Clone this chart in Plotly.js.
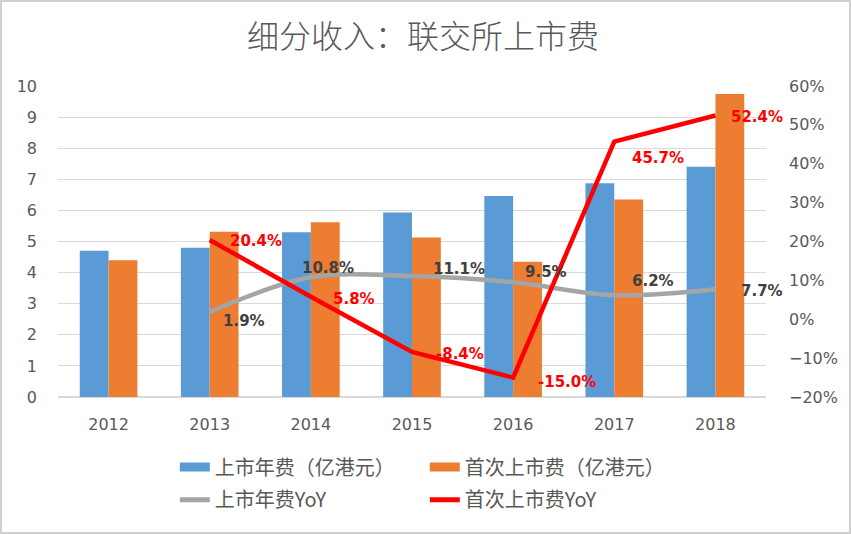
<!DOCTYPE html>
<html><head><meta charset="utf-8">
<script src="https://cdn.plot.ly/plotly-3.0.1.min.js"></script>
<style>
html,body{margin:0;padding:0;background:#fff}
#chart{width:851px;height:534px}
#frame{position:absolute;left:0;top:0;width:851px;height:534px;box-sizing:border-box;border:2px solid #d0d0d0;pointer-events:none}
</style>
</head><body>
<div id="chart"></div><div id="frame"></div>
<script>
// ---- data ----
const years = ['2012','2013','2014','2015','2016','2017','2018'];
const annualFee = [4.70, 4.80, 5.30, 5.93, 6.46, 6.87, 7.40];      // 上市年费（亿港元）
const listingFee = [4.40, 5.31, 5.62, 5.13, 4.35, 6.35, 9.74];     // 首次上市费（亿港元）
const yoyYears = ['2013','2014','2015','2016','2017','2018'];
const annualYoY = [1.9, 10.8, 11.1, 9.5, 6.2, 7.7];               // 上市年费YoY (%)
const listingYoY = [20.4, 5.8, -8.4, -15.0, 45.7, 52.4];           // 首次上市费YoY (%)
const names = ['上市年费（亿港元）','首次上市费（亿港元）','上市年费YoY','首次上市费YoY'];

// ---- styles ----
const C = {blue:'#5B9BD5', orange:'#ED7D31', gray:'#A5A5A5', red:'#FF0000', text:'#595959'};
const grayLabelOffsets = [[34,-9],[17,9],[47,7],[33,10],[39,14],[47,-2]];
const redLabelOffsets  = [[46,-1],[43,-2],[48,-2],[54,-4],[44,-16],[42,-1]];

const traces = [
  {type:'bar', x:years, y:annualFee, marker:{color:C.blue}, showlegend:false, hoverinfo:'skip'},
  {type:'bar', x:years, y:listingFee, marker:{color:C.orange}, showlegend:false, hoverinfo:'skip'},
  {type:'scatter', mode:'lines', x:yoyYears, y:annualYoY, yaxis:'y2', line:{color:C.gray, width:4.5, shape:'spline', smoothing:1}, showlegend:false},
  {type:'scatter', mode:'lines', x:yoyYears, y:listingYoY, yaxis:'y2', line:{color:C.red, width:4.5}, showlegend:false},
  // legend entries
  {type:'scatter', mode:'lines', x:[years[0]], y:[null], name:names[0], line:{color:C.blue, width:9}, legend:'legend'},
  {type:'scatter', mode:'lines', x:[years[0]], y:[null], name:names[1], line:{color:C.orange, width:9}, legend:'legend'},
  {type:'scatter', mode:'lines', x:[years[0]], y:[null], name:names[2], line:{color:C.gray, width:5}, legend:'legend2'},
  {type:'scatter', mode:'lines', x:[years[0]], y:[null], name:names[3], line:{color:C.red, width:5}, legend:'legend2'}
];

const annotations = [];
yoyYears.forEach((yr,i)=>{
  const xi = years.indexOf(yr);
  annotations.push({x:xi, y:annualYoY[i], xref:'x', yref:'y2', showarrow:false,
    text:annualYoY[i].toFixed(1)+'%', xshift:grayLabelOffsets[i][0], yshift:grayLabelOffsets[i][1],
    font:{family:'DejaVu Sans', size:15, color:'#404040', weight:'bold'}});
  annotations.push({x:xi, y:listingYoY[i], xref:'x', yref:'y2', showarrow:false,
    text:listingYoY[i].toFixed(1)+'%', xshift:redLabelOffsets[i][0], yshift:redLabelOffsets[i][1],
    font:{family:'DejaVu Sans', size:15, color:C.red, weight:'bold'}});
});

const legendCommon = {orientation:'h', xanchor:'left', yanchor:'middle', entrywidth:205,
  font:{family:'Noto Sans CJK SC', size:20, color:C.text}, bgcolor:'rgba(0,0,0,0)', itemclick:false};

const layout = {
  width:851, height:534,
  margin:{l:58, r:85, t:86, b:137},
  paper_bgcolor:'#fff', plot_bgcolor:'#fff',
  title:{text:'细分收入：联交所上市费', x:0.497, xanchor:'center', y:0.932, yanchor:'middle',
    font:{family:'Noto Sans CJK SC', size:32, color:C.text, weight:300}},
  barmode:'group', bargap:0.43, bargroupgap:0,
  xaxis:{type:'category', categoryarray:years, categoryorder:'array', range:[-0.5, 6.5], autorange:false,
    showgrid:false, zeroline:false, showline:false, ticks:'',
    ticklabelstandoff:16, tickfont:{family:'DejaVu Sans', size:16, color:C.text}},
  yaxis:{range:[0,10], autorange:false, dtick:1, showgrid:true, gridcolor:'#D9D9D9', gridwidth:1.2, zeroline:true, zerolinecolor:'#D9D9D9', zerolinewidth:1.2,
    ticks:'', ticklabelstandoff:20, tickfont:{family:'DejaVu Sans', size:16, color:C.text}},
  yaxis2:{overlaying:'y', side:'right', range:[-20,60], autorange:false, dtick:10, ticksuffix:'%', showgrid:false, zeroline:false,
    ticks:'', ticklabelstandoff:22, tickfont:{family:'DejaVu Sans', size:16, color:C.text}},
  legend:Object.assign({x:0.165, y:-0.225}, legendCommon),
  legend2:Object.assign({x:0.165, y:-0.33}, legendCommon),
  annotations:annotations,
  showlegend:true
};

Plotly.newPlot('chart', traces, layout, {displayModeBar:false, staticPlot:true});
</script>
</body></html>
